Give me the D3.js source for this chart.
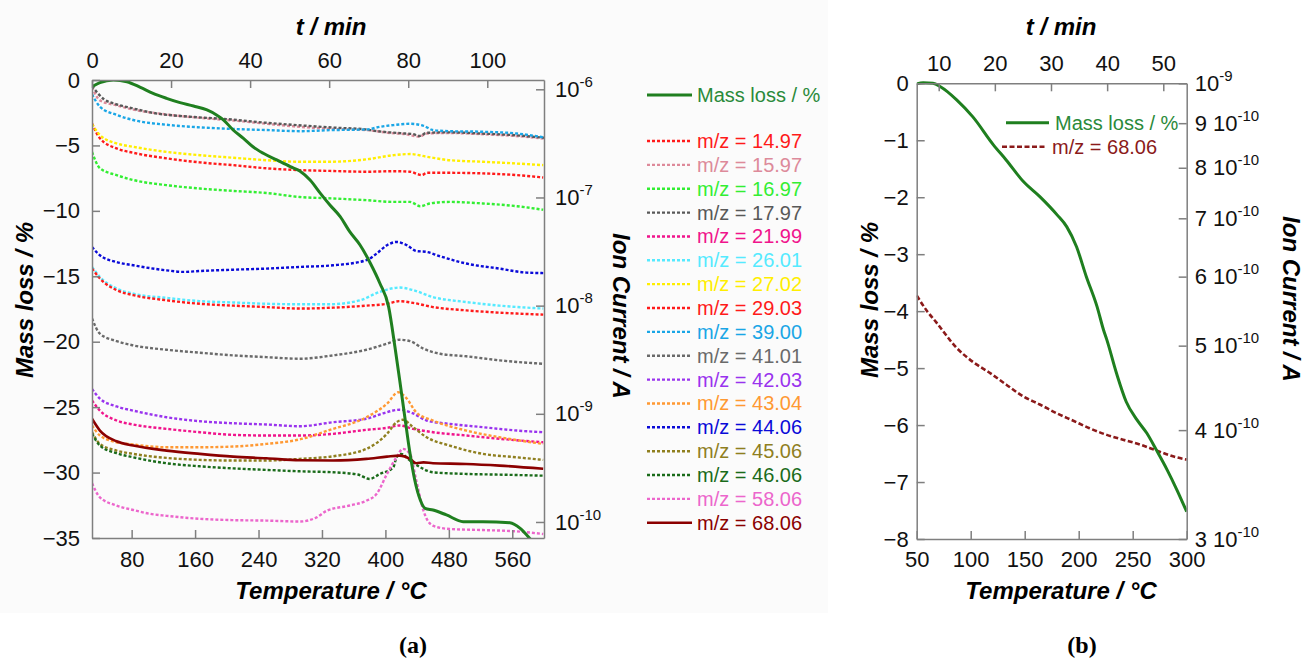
<!DOCTYPE html>
<html><head><meta charset="utf-8">
<script src="https://cdn.jsdelivr.net/npm/d3@7"></script>
<style>
body{margin:0;background:#fff;}
svg{display:block;font-family:"Liberation Sans",Arial,sans-serif;}
</style></head><body>
<svg id="chart" width="1304" height="659"></svg>
<script>
// ---------------- DATA (panel a) ----------------
const massT_a = [30,40,57,74,91,107,124,141,158,175,187,196,208,221,233,246,263,280,292,305,318,330,343,355,368,381,393,404,412,418,425,431,437,444,450,460,477,498,523,557,570,582,590];
const mass_a  = [-0.51,-0.2,0,-0.13,-0.56,-1.02,-1.40,-1.73,-1.99,-2.29,-2.67,-3.06,-3.82,-4.46,-5.10,-5.60,-6.11,-6.62,-6.95,-7.64,-8.66,-9.55,-10.44,-11.59,-12.61,-14.0,-15.53,-17.32,-20.38,-22.93,-25.98,-28.53,-30.57,-32.1,-32.73,-32.86,-33.24,-33.75,-33.75,-33.83,-34.26,-35.03,-35.6];

const t1497 = [30,40,61,82,124,166,208,250,292,330,376,410,431,441,446,452,481,523,566,599];
const v1497 = [4.84e-7,3.52e-7,2.84e-7,2.59e-7,2.30e-7,2.11e-7,1.99e-7,1.86e-7,1.79e-7,1.76e-7,1.73e-7,1.75e-7,1.73e-7,1.64e-7,1.61e-7,1.69e-7,1.69e-7,1.67e-7,1.61e-7,1.53e-7];
const t1597 = [30,40,61,82,124,166,208,250,292,334,376,405,425,443,452,480,520,560,600];
const v1597 = [1.05e-6,7.9e-7,7.1e-7,6.5e-7,5.85e-7,5.45e-7,5.15e-7,4.8e-7,4.5e-7,4.3e-7,4.2e-7,3.95e-7,3.85e-7,3.65e-7,3.9e-7,3.95e-7,3.85e-7,3.72e-7,3.5e-7];
const t1697 = [30,40,61,82,124,166,208,250,292,334,376,410,431,444,456,481,523,566,599];
const v1697 = [2.64e-7,1.86e-7,1.61e-7,1.45e-7,1.30e-7,1.21e-7,1.15e-7,1.10e-7,1.01e-7,9.8e-8,9.44e-8,9.1e-8,9.1e-8,8.3e-8,8.8e-8,9.1e-8,8.8e-8,8.3e-8,7.7e-8];
const t1797 = [30,45,60,80,110,150,200,250,300,340,370,390,405,425,435,443,452,480,520,560,600];
const v1797 = [1.07e-6,8.1e-7,7.3e-7,6.7e-7,6.0e-7,5.6e-7,5.3e-7,4.9e-7,4.6e-7,4.4e-7,4.3e-7,4.1e-7,4.0e-7,3.9e-7,3.85e-7,3.7e-7,3.96e-7,4.0e-7,3.9e-7,3.78e-7,3.56e-7];
const t2199 = [30,40,61,82,124,166,208,250,292,334,376,402,418,435,460,502,544,599];
const v2199 = [1.33e-9,1.07e-9,8.67e-10,7.96e-10,7.26e-10,6.76e-10,6.39e-10,6.3e-10,6.3e-10,6.53e-10,7.11e-10,7.42e-10,7.8e-10,7.26e-10,6.76e-10,6.3e-10,5.87e-10,5.46e-10];
const t2601 = [30,40,61,82,124,166,208,250,292,330,368,393,418,435,460,502,544,599];
const v2601 = [2.28e-8,1.84e-8,1.44e-8,1.29e-8,1.18e-8,1.10e-8,1.07e-8,1.04e-8,1.03e-8,1.03e-8,1.12e-8,1.34e-8,1.47e-8,1.39e-8,1.20e-8,1.08e-8,1.0e-8,9.4e-9];
const t2702 = [30,40,61,82,124,166,208,250,292,330,376,410,431,452,481,523,566,599];
const v2702 = [4.77e-7,3.78e-7,3.16e-7,2.94e-7,2.64e-7,2.46e-7,2.33e-7,2.21e-7,2.14e-7,2.14e-7,2.25e-7,2.46e-7,2.52e-7,2.38e-7,2.21e-7,2.14e-7,2.06e-7,1.99e-7];
const t2903 = [30,40,61,82,124,166,208,250,292,334,376,402,418,435,460,502,544,599];
const v2903 = [2.21e-8,1.78e-8,1.39e-8,1.25e-8,1.12e-8,1.04e-8,1.0e-8,9.7e-9,9.4e-9,9.58e-9,1.0e-8,1.04e-8,1.10e-8,1.06e-8,9.7e-9,9.04e-9,8.61e-9,8.26e-9];
const t3900 = [30,40,61,82,124,166,208,250,292,334,376,393,410,431,448,460,481,523,566,599];
const v3900 = [9.0e-7,6.9e-7,5.8e-7,5.2e-7,4.7e-7,4.45e-7,4.3e-7,4.2e-7,4.1e-7,4.2e-7,4.25e-7,4.5e-7,4.67e-7,4.8e-7,4.6e-7,4.2e-7,4.1e-7,4.05e-7,3.9e-7,3.6e-7];
const t4101 = [30,40,61,82,124,166,208,250,292,334,376,402,418,431,448,469,502,544,599];
const v4101 = [7.63e-9,5.5e-9,4.7e-9,4.29e-9,3.91e-9,3.67e-9,3.47e-9,3.34e-9,3.23e-9,3.47e-9,3.91e-9,4.45e-9,4.84e-9,4.70e-9,4.0e-9,3.59e-9,3.4e-9,3.12e-9,2.9e-9];
const t4203 = [30,40,61,82,124,166,208,250,292,334,376,397,418,435,452,481,523,566,599];
const v4203 = [1.70e-9,1.38e-9,1.17e-9,1.07e-9,9.3e-10,8.54e-10,8.18e-10,7.96e-10,7.68e-10,8.36e-10,9.0e-10,1.01e-9,1.09e-9,1.01e-9,8.67e-10,8.08e-10,7.52e-10,7.0e-10,6.76e-10];
const t4304 = [30,40,61,82,124,166,208,250,292,330,376,402,416,427,439,460,502,544,599];
const v4304 = [7.8e-10,6.3e-10,5.46e-10,5.2e-10,4.91e-10,4.91e-10,4.98e-10,5.27e-10,5.8e-10,7.1e-10,9.3e-10,1.24e-9,1.58e-9,1.38e-9,1.03e-9,8.67e-10,7.0e-10,6.07e-10,5.27e-10];
const t4406 = [30,40,61,82,124,145,166,208,250,292,334,376,389,402,414,427,439,452,469,502,544,578,599];
const v4406 = [3.49e-8,2.92e-8,2.53e-8,2.36e-8,2.12e-8,2.05e-8,2.09e-8,2.15e-8,2.20e-8,2.28e-8,2.36e-8,2.63e-8,3.03e-8,3.62e-8,3.88e-8,3.62e-8,3.2e-8,3.14e-8,2.86e-8,2.45e-8,2.20e-8,2.02e-8,2.0e-8];
const t4506 = [30,40,61,82,124,166,208,250,292,334,376,402,414,422,435,452,481,523,566,599];
const v4506 = [6.76e-10,5.27e-10,4.57e-10,4.26e-10,3.91e-10,3.75e-10,3.7e-10,3.7e-10,3.83e-10,4.05e-10,4.74e-10,6.53e-10,8.36e-10,8.8e-10,7.52e-10,6.07e-10,5.09e-10,4.26e-10,3.96e-10,3.75e-10];
const t4606 = [30,40,61,82,124,166,208,250,292,334,365,380,393,410,414,420,431,444,460,502,544,599];
const v4606 = [6.53e-10,5.09e-10,4.32e-10,3.96e-10,3.49e-10,3.27e-10,3.13e-10,3.03e-10,2.94e-10,2.88e-10,2.75e-10,2.5e-10,2.78e-10,3.2e-10,3.96e-10,4.26e-10,3.7e-10,3.2e-10,2.88e-10,2.78e-10,2.74e-10,2.68e-10];
const t5806 = [30,40,61,82,103,124,166,208,250,292,313,326,355,376,389,402,414,422,431,439,448,460,481,523,566,599];
const v5806 = [2.28e-10,1.69e-10,1.42e-10,1.29e-10,1.19e-10,1.14e-10,1.07e-10,1.04e-10,1.03e-10,1.01e-10,1.10e-10,1.27e-10,1.42e-10,1.57e-10,1.82e-10,2.78e-10,3.96e-10,4.74e-10,4.26e-10,2.41e-10,1.27e-10,9.24e-11,8.61e-11,8.42e-11,8.18e-11,7.74e-11];
const t6806 = [30,40,61,82,124,166,208,250,292,334,376,402,418,431,439,448,460,502,544,599];
const v6806 = [9.0e-10,7.0e-10,5.57e-10,5.09e-10,4.57e-10,4.26e-10,4.02e-10,3.88e-10,3.72e-10,3.7e-10,3.83e-10,4.02e-10,4.11e-10,3.83e-10,3.49e-10,3.56e-10,3.49e-10,3.44e-10,3.32e-10,3.1e-10];

const mzLabels = ["14.97","15.97","16.97","17.97","21.99","26.01","27.02","29.03","39.00","41.01","42.03","43.04","44.06","45.06","46.06","58.06","68.06"];
const mzColors = ["#ff1a1a","#dd8a9a","#33ee33","#585858","#f0148c","#55eaff","#ffee00","#ff1a1a","#1aa6e6","#6a6a6a","#9933ee","#ff9933","#0a0ad8","#8f7f1f","#1a6b1a","#ec66cc","#8b0000"];
const mzT = [t1497,t1597,t1697,t1797,t2199,t2601,t2702,t2903,t3900,t4101,t4203,t4304,t4406,t4506,t4606,t5806,t6806];
const mzV = [v1497,v1597,v1697,v1797,v2199,v2601,v2702,v2903,v3900,v4101,v4203,v4304,v4406,v4506,v4606,v5806,v6806];

// ---------------- DATA (panel b) ----------------
const massT_b = [50,56,65,72,87,102,121,133,149,164,180,189,198,207,217,223,226,235,244,254,263,272,282,291,300];
const mass_b  = [-0.01,0.01,0,-0.06,-0.29,-0.59,-1.08,-1.35,-1.73,-1.99,-2.31,-2.52,-2.87,-3.39,-3.92,-4.33,-4.50,-5.09,-5.59,-5.91,-6.14,-6.44,-6.79,-7.14,-7.52];
const ionT_b = [50,59,68,87,102,118,133,149,164,180,195,210,226,241,257,272,288,300];
const ion_b  = [5.71e-10,5.49e-10,5.32e-10,4.97e-10,4.79e-10,4.65e-10,4.51e-10,4.37e-10,4.28e-10,4.18e-10,4.10e-10,4.02e-10,3.95e-10,3.90e-10,3.85e-10,3.79e-10,3.73e-10,3.70e-10];

// tick values
const massTicks_a = [-35,-30,-25,-20,-15,-10,-5,0];
const tempTicks_a = [80,160,240,320,400,480,560];
const timeTicks_a = [0,20,40,60,80,100];
const ionTicks_a = [1e-6,1e-7,1e-8,1e-9,1e-10];
const massTicks_b = [-8,-7,-6,-5,-4,-3,-2,-1,0];
const tempTicks_b = [50,100,150,200,250,300];
const timeTicks_b = [10,20,30,40,50];
const ionTicks_b = [3e-10,4e-10,5e-10,6e-10,7e-10,8e-10,9e-10,1e-9];

const GREEN = "#1f7f1f";
const AXC = "#7f7f7f";

const svg = d3.select("#chart");
svg.append("rect").attr("x",0).attr("y",0).attr("width",828).attr("height",613).attr("fill","#fbfbfb");

function styleAxis(g){
  g.attr("font-family","Liberation Sans, Arial, sans-serif").attr("font-size",22);
  g.select(".domain").attr("stroke",AXC).attr("stroke-width",1.5);
  g.selectAll(".tick line").attr("stroke",AXC).attr("stroke-width",1.5);
  g.selectAll(".tick text").attr("fill","#111").attr("font-size","22px");
}
function supLabel(sel, fn){
  sel.selectAll(".tick text").each(function(d){
    const t = d3.select(this); t.text(null);
    const p = fn(d);
    t.append("tspan").text(p[0]);
    t.append("tspan").attr("dy",-10).attr("font-size","15px").text(p[1]);
  });
}
function expOf(v){ return Math.round(Math.log10(v)); }

// ---------------- Panel a ----------------
const A = {l:92, r:544, t:80, b:538};
const xa = d3.scaleLinear().domain([30,600]).range([A.l,A.r]);
const ta = d3.scaleLinear().domain([0,114.35]).range([A.l,A.r]);
const ya = d3.scaleLinear().domain([-35,0]).range([A.b,A.t]);
const ia = d3.scaleLog().domain([7.11e-11,1.219e-6]).range([A.b,A.t]);

svg.append("clipPath").attr("id","clipA").append("rect").attr("x",A.l).attr("y",A.t).attr("width",A.r-A.l).attr("height",A.b-A.t);

const gA = svg.append("g").attr("clip-path","url(#clipA)");
const ionLineA = d3.line().x(d=>xa(d[0])).y(d=>ia(d[1])).curve(d3.curveMonotoneX);
mzLabels.forEach((lab,i)=>{
  const pts = mzT[i].map((t,j)=>[t,mzV[i][j]]);
  const solid = lab==="68.06";
  gA.append("path").datum(pts).attr("d",ionLineA).attr("fill","none")
    .attr("stroke",mzColors[i]).attr("stroke-width",solid?2.6:2.4)
    .attr("stroke-dasharray",solid?null:"3,2");
});
const massLineA = d3.line().x(d=>xa(d[0])).y(d=>ya(d[1])).curve(d3.curveMonotoneX);
gA.append("path").datum(massT_a.map((t,j)=>[t,mass_a[j]])).attr("d",massLineA)
  .attr("fill","none").attr("stroke",GREEN).attr("stroke-width",3);

svg.append("g").attr("transform",`translate(${A.l},0)`)
  .call(d3.axisLeft(ya).tickValues(massTicks_a).tickSize(-8).tickSizeOuter(0).tickPadding(12).tickFormat(d3.format("d")))
  .call(styleAxis);
svg.append("g").attr("transform",`translate(0,${A.b})`)
  .call(d3.axisBottom(xa).tickValues(tempTicks_a).tickSize(-8).tickSizeOuter(0).tickPadding(13).tickFormat(d3.format("d")))
  .call(styleAxis);
svg.append("g").attr("transform",`translate(0,${A.t})`)
  .call(d3.axisTop(ta).tickValues(timeTicks_a).tickSize(-8).tickSizeOuter(0).tickPadding(12).tickFormat(d3.format("d")))
  .call(styleAxis);
const rA = svg.append("g").attr("transform",`translate(${A.r},0)`)
  .call(d3.axisRight(ia).tickValues(ionTicks_a).tickSize(-8).tickSizeOuter(0).tickPadding(11))
  .call(styleAxis);
supLabel(rA, d=>["10", String(expOf(d))]);

// legend a
const legA = svg.append("g").attr("font-size","20px");
legA.append("line").attr("x1",647).attr("x2",692).attr("y1",95).attr("y2",95).attr("stroke",GREEN).attr("stroke-width",3);
legA.append("text").attr("x",697).attr("y",95).attr("dy","0.35em").attr("fill","#2a8a3a").text("Mass loss / %");
mzLabels.forEach((lab,i)=>{
  const y = 141 + i*23.86;
  const solid = lab==="68.06";
  legA.append("line").attr("x1",647).attr("x2",692).attr("y1",y).attr("y2",y)
    .attr("stroke",mzColors[i]).attr("stroke-width",solid?2.6:2.4).attr("stroke-dasharray",solid?null:"3,2");
  legA.append("text").attr("x",697).attr("y",y).attr("dy","0.35em").attr("fill",mzColors[i]).text("m/z = "+lab);
});

// titles a
const titleStyle = s=>s.attr("font-size","24px").attr("font-weight","bold").attr("font-style","italic").attr("fill","#000").attr("text-anchor","middle");
svg.append("text").attr("x",331).attr("y",35).call(titleStyle).text("t / min");
svg.append("text").attr("x",331).attr("y",599).call(titleStyle).text("Temperature / °C");
svg.append("text").attr("transform","translate(33,300) rotate(-90)").call(titleStyle).text("Mass loss / %");
svg.append("text").attr("transform","translate(613,316) rotate(90)").call(titleStyle).text("Ion Current / A");
svg.append("text").attr("x",413).attr("y",653).attr("text-anchor","middle").attr("font-family","Liberation Serif, serif").attr("font-weight","bold").attr("font-size","24px").text("(a)");

// ---------------- Panel b ----------------
const B = {l:916.7, r:1186.7, t:83.3, b:539};
const xb = d3.scaleLinear().domain([50,300]).range([B.l,B.r]);
const tb = d3.scaleLinear().domain([6.08,54.17]).range([B.l,B.r]);
const yb = d3.scaleLinear().domain([-8,0]).range([B.b,B.t]);
const ib = d3.scaleLog().domain([3e-10,1e-9]).range([B.b,B.t]);

svg.append("clipPath").attr("id","clipB").append("rect").attr("x",B.l).attr("y",B.t-3).attr("width",B.r-B.l).attr("height",B.b-B.t+3);
const gB = svg.append("g").attr("clip-path","url(#clipB)");
gB.append("path").datum(ionT_b.map((t,j)=>[t,ion_b[j]]))
  .attr("d",d3.line().x(d=>xb(d[0])).y(d=>ib(d[1])).curve(d3.curveMonotoneX))
  .attr("fill","none").attr("stroke","#8b1a1a").attr("stroke-width",2.6).attr("stroke-dasharray","5,2.5");
gB.append("path").datum(massT_b.map((t,j)=>[t,mass_b[j]]))
  .attr("d",d3.line().x(d=>xb(d[0])).y(d=>yb(d[1])).curve(d3.curveMonotoneX))
  .attr("fill","none").attr("stroke",GREEN).attr("stroke-width",3);

svg.append("g").attr("transform",`translate(${B.l},0)`)
  .call(d3.axisLeft(yb).tickValues(massTicks_b).tickSize(-8).tickSizeOuter(0).tickPadding(8).tickFormat(d3.format("d")))
  .call(styleAxis);
svg.append("g").attr("transform",`translate(0,${B.b})`)
  .call(d3.axisBottom(xb).tickValues(tempTicks_b).tickSize(-8).tickSizeOuter(0).tickPadding(12).tickFormat(d3.format("d")))
  .call(styleAxis);
svg.append("g").attr("transform",`translate(0,${B.t})`)
  .call(d3.axisTop(tb).tickValues(timeTicks_b).tickSize(-8).tickSizeOuter(0).tickPadding(12).tickFormat(d3.format("d")))
  .call(styleAxis);
const rB = svg.append("g").attr("transform",`translate(${B.r},0)`)
  .call(d3.axisRight(ib).tickValues(ionTicks_b).tickSize(-8).tickSizeOuter(0).tickPadding(8))
  .call(styleAxis);
supLabel(rB, d=>{
  const e = Math.floor(Math.log10(d)+1e-9);
  const m = Math.round(d/Math.pow(10,e));
  return m===1 ? ["10", String(e)] : [m+" 10", String(e)];
});

// legend b
const legB = svg.append("g").attr("font-size","20px");
legB.append("line").attr("x1",1006).attr("x2",1049).attr("y1",122.7).attr("y2",122.7).attr("stroke",GREEN).attr("stroke-width",3);
legB.append("text").attr("x",1055).attr("y",122.7).attr("dy","0.35em").attr("fill","#2a8a3a").text("Mass loss / %");
legB.append("line").attr("x1",1002).attr("x2",1047).attr("y1",146.7).attr("y2",146.7).attr("stroke","#8b1a1a").attr("stroke-width",2.6).attr("stroke-dasharray","5,2.5");
legB.append("text").attr("x",1052).attr("y",146.7).attr("dy","0.35em").attr("fill","#8b1a1a").text("m/z = 68.06");

svg.append("text").attr("x",1061).attr("y",35).call(titleStyle).text("t / min");
svg.append("text").attr("x",1061).attr("y",599).call(titleStyle).text("Temperature / °C");
svg.append("text").attr("transform","translate(878,300) rotate(-90)").call(titleStyle).text("Mass loss / %");
svg.append("text").attr("transform","translate(1283,299) rotate(90)").call(titleStyle).text("Ion Current / A");
svg.append("text").attr("x",1082).attr("y",653).attr("text-anchor","middle").attr("font-family","Liberation Serif, serif").attr("font-weight","bold").attr("font-size","24px").text("(b)");
</script>
</body></html>
